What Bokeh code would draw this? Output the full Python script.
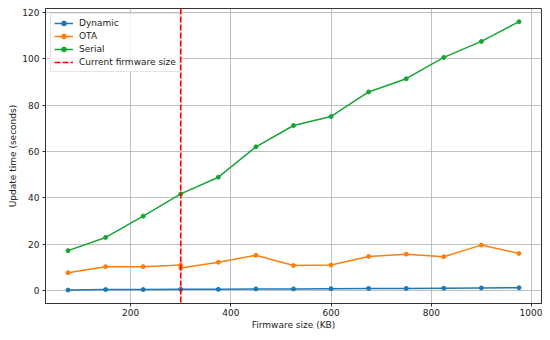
from bokeh.plotting import figure
from bokeh.models import Span, Legend, LegendItem
from bokeh.embed import file_html
from bokeh.resources import INLINE

sizes = [75, 150, 225, 300, 375, 450, 525, 600, 675, 750, 825, 900, 975]
dynamic = [0.2, 0.4, 0.4, 0.5, 0.5, 0.7, 0.7, 0.8, 0.9, 0.9, 1.0, 1.1, 1.2]
ota_sizes = [75, 150, 225, 300, 300, 375, 450, 525, 600, 675, 750, 825, 900, 975]
ota = [7.7, 10.3, 10.3, 11.0, 9.7, 12.2, 15.2, 10.8, 11.0, 14.7, 15.7, 14.6, 19.6, 16.0]
serial = [17.2, 22.9, 32.1, 41.7, 48.9, 62.0, 71.2, 75.1, 85.7, 91.4, 100.6, 107.5, 116.0]
current_fw = 300

C_DYN = "#1f77b4"
C_OTA = "#ff7f0e"
C_SER = "#16a535"

p = figure(width=542, height=332, output_backend="svg", toolbar_location=None,
           x_range=(30, 1020), y_range=(-5.6, 121.7),
           min_border_left=45, min_border_right=1, min_border_top=8, min_border_bottom=28)

FONT = "DejaVu Sans"
for ax in (p.xaxis[0], p.yaxis[0]):
    ax.major_label_text_font = FONT
    ax.major_label_text_font_size = "9px"
    ax.major_label_text_color = "#222222"
    ax.axis_label_text_font = FONT
    ax.axis_label_text_font_size = "9px"
    ax.axis_label_text_font_style = "normal"
    ax.axis_label_text_color = "#222222"
    ax.minor_tick_line_color = None
    ax.major_tick_out = 3
    ax.major_tick_in = 0
    ax.major_label_standoff = 2
    ax.axis_label_standoff = 1
    ax.axis_line_color = "#333333"
    ax.major_tick_line_color = "#333333"
p.xaxis.axis_label = "Firmware size (KB)"
p.yaxis.axis_label = "Update time (seconds)"
p.xaxis.ticker = [200, 400, 600, 800, 1000]
p.yaxis.ticker = [0, 20, 40, 60, 80, 100, 120]
p.yaxis.major_label_standoff = 3

p.xgrid.grid_line_color = "#b0b0b0"
p.ygrid.grid_line_color = "#b0b0b0"
p.xgrid.grid_line_alpha = 0.8
p.ygrid.grid_line_alpha = 0.8
p.outline_line_color = "#333333"
p.outline_line_alpha = 1

l1 = p.line(sizes, dynamic, line_color=C_DYN, line_width=1.5)
s1 = p.scatter(sizes, dynamic, color=C_DYN, size=4)
l2 = p.line(ota_sizes, ota, line_color=C_OTA, line_width=1.5)
s2 = p.scatter(ota_sizes, ota, color=C_OTA, size=4)
l3 = p.line(sizes, serial, line_color=C_SER, line_width=1.5)
s3 = p.scatter(sizes, serial, color=C_SER, size=4)

span = Span(location=current_fw, dimension="height", line_color="#ff0000",
            line_dash="6 2", line_width=1.6)
p.add_layout(span)
nan = float("nan")
dummy = p.line(x=[current_fw, current_fw], y=[nan, nan], line_color="#ff0000",
               line_dash="6 2", line_width=1.6)

legend = Legend(items=[
    LegendItem(label="Dynamic", renderers=[l1, s1]),
    LegendItem(label="OTA", renderers=[l2, s2]),
    LegendItem(label="Serial", renderers=[l3, s3]),
    LegendItem(label="Current firmware size", renderers=[dummy]),
], location="top_left")
legend.label_text_font = FONT
legend.label_text_font_size = "9px"
legend.label_text_color = "#222222"
legend.glyph_width = 19
legend.glyph_height = 12
legend.label_height = 12
legend.spacing = 1
legend.padding = 3
legend.margin = 5
legend.label_standoff = 6
legend.border_line_color = "#cccccc"
legend.border_line_width = 1
legend.background_fill_alpha = 0.85
p.add_layout(legend)

open("out.html", "w").write(file_html(p, INLINE))
